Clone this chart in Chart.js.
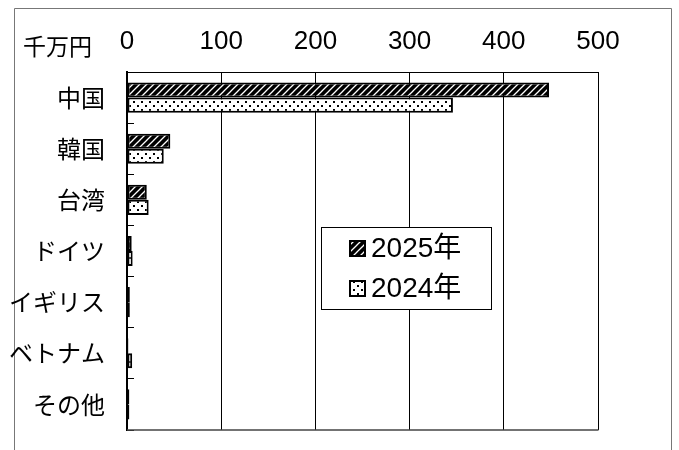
<!DOCTYPE html>
<html>
<head>
<meta charset="utf-8">
<script src="https://cdn.jsdelivr.net/npm/chart.js@4"></script>
<style>
  html, body { margin: 0; padding: 0; background: #fff; }
  canvas { display: block; }
</style>
</head>
<body>
<canvas id="chart" width="679" height="450"></canvas>
<script>
// データ（単位：千万円）
const categories = ['中国', '韓国', '台湾', 'ドイツ', 'イギリス', 'ベトナム', 'その他'];
const seriesLabels = ['2025年', '2024年'];
const values2025 = [448, 46, 21, 5, 3, 1.5, 2.5];
const values2024 = [346, 39, 23, 6, 3, 5.5, 2.5];
const xTicks = [0, 100, 200, 300, 400, 500];
const unitLabel = '千万円';

const NUM_FONT = '"Liberation Sans", Arial, "Noto Sans CJK JP", sans-serif';
const JP_FONT = '"Noto Sans CJK JP", "Noto Sans", sans-serif';

// 斜線パターン（黒地に白い斜線）
function makeHatch() {
    const c = document.createElement('canvas');
    c.width = 7; c.height = 7;
    const g = c.getContext('2d');
    g.fillStyle = '#000';
    g.fillRect(0, 0, 7, 7);
    g.strokeStyle = '#fff';
    g.lineWidth = 1.3;
    g.beginPath();
    g.moveTo(-1, 8); g.lineTo(8, -1);
    g.moveTo(-4, 4); g.lineTo(4, -4);
    g.moveTo(3, 11); g.lineTo(11, 3);
    g.stroke();
    return g.createPattern(c, 'repeat');
}

// ドットパターン（白地に黒い点）
function makeDots() {
    const c = document.createElement('canvas');
    c.width = 8; c.height = 8;
    const g = c.getContext('2d');
    g.fillStyle = '#fff';
    g.fillRect(0, 0, 8, 8);
    g.fillStyle = '#000';
    g.fillRect(1, 1, 2, 2);
    g.fillRect(5, 5, 2, 2);
    return g.createPattern(c, 'repeat');
}

const hatch = makeHatch();
const dots = makeDots();

// 枠線・単位・凡例を描くプラグイン
const decorPlugin = {
    id: 'decor',
    beforeDraw(chart) {
        const ctx = chart.ctx;
        ctx.save();
        ctx.fillStyle = '#fff';
        ctx.fillRect(0, 0, chart.width, chart.height);
        // 外枠
        ctx.strokeStyle = '#777';
        ctx.lineWidth = 1;
        ctx.beginPath();
        ctx.moveTo(14.5, 460);
        ctx.lineTo(14.5, 8.5);
        ctx.lineTo(671.5, 8.5);
        ctx.lineTo(671.5, 460);
        ctx.stroke();
        ctx.restore();
    },
    afterDraw(chart) {
        const ctx = chart.ctx;
        const area = chart.chartArea;
        ctx.save();
        // 下の枠線
        ctx.strokeStyle = '#444';
        ctx.lineWidth = 1.5;
        ctx.beginPath();
        ctx.moveTo(area.left, area.bottom);
        ctx.lineTo(area.right + 0.5, area.bottom);
        ctx.stroke();

        // 単位
        ctx.fillStyle = '#000';
        ctx.font = '23px ' + JP_FONT;
        ctx.textAlign = 'left';
        ctx.textBaseline = 'middle';
        ctx.fillText(unitLabel, 23, 46);

        // 凡例
        const bx = 321.5, by = 227.5, bw = 170, bh = 82;
        ctx.fillStyle = '#fff';
        ctx.fillRect(bx, by, bw, bh);
        ctx.strokeStyle = '#000';
        ctx.lineWidth = 1;
        ctx.strokeRect(bx, by, bw, bh);
        chart.data.datasets.forEach((ds, i) => {
            const cy = 248 + i * 40;
            ctx.fillStyle = ds.backgroundColor;
            ctx.fillRect(350, cy - 7, 15, 15);
            ctx.strokeStyle = '#000';
            ctx.lineWidth = 2;
            ctx.strokeRect(350, cy - 7, 15, 15);
            ctx.fillStyle = '#000';
            ctx.font = '28px ' + NUM_FONT;
            ctx.textAlign = 'left';
            ctx.textBaseline = 'middle';
            ctx.fillText(ds.label, 371, cy + 1);
        });
        ctx.restore();
    }
};

new Chart(document.getElementById('chart'), {
    type: 'bar',
    data: {
        labels: categories,
        datasets: [
            {
                label: seriesLabels[0],
                data: values2025,
                backgroundColor: hatch,
                borderColor: '#000',
                borderWidth: 2,
                borderSkipped: false,
                categoryPercentage: 0.59,
                barPercentage: 1.0
            },
            {
                label: seriesLabels[1],
                data: values2024,
                backgroundColor: dots,
                borderColor: '#000',
                borderWidth: 2,
                borderSkipped: false,
                categoryPercentage: 0.59,
                barPercentage: 1.0
            }
        ]
    },
    options: {
        indexAxis: 'y',
        responsive: false,
        animation: false,
        layout: { padding: { left: 0, top: 0, right: 81, bottom: 20 } },
        scales: {
            x: {
                position: 'top',
                min: 0,
                max: 500,
                afterBuildTicks: (scale) => {
                    scale.ticks = xTicks.map(v => ({ value: v }));
                },
                afterFit: (scale) => {
                    scale.height = 72;
                    scale.paddingLeft = 0;
                    scale.paddingRight = 0;
                },
                grid: { color: '#000', lineWidth: 1, drawTicks: false },
                border: { display: true, color: '#000', width: 1 },
                ticks: {
                    color: '#000',
                    padding: 15,
                    font: { family: NUM_FONT, size: 26 }
                }
            },
            y: {
                afterFit: (scale) => {
                    scale.width = 127;
                    scale.paddingTop = 0;
                    scale.paddingBottom = 0;
                },
                grid: {
                    display: true,
                    drawOnChartArea: false,
                    drawTicks: true,
                    tickLength: -7,
                    color: '#000',
                    lineWidth: 1
                },
                border: { display: true, color: '#000', width: 2 },
                ticks: {
                    color: '#000',
                    padding: 29,
                    font: { family: JP_FONT, size: 24 }
                }
            }
        },
        plugins: {
            legend: { display: false },
            tooltip: { enabled: false }
        }
    },
    plugins: [decorPlugin]
});
</script>
</body>
</html>
